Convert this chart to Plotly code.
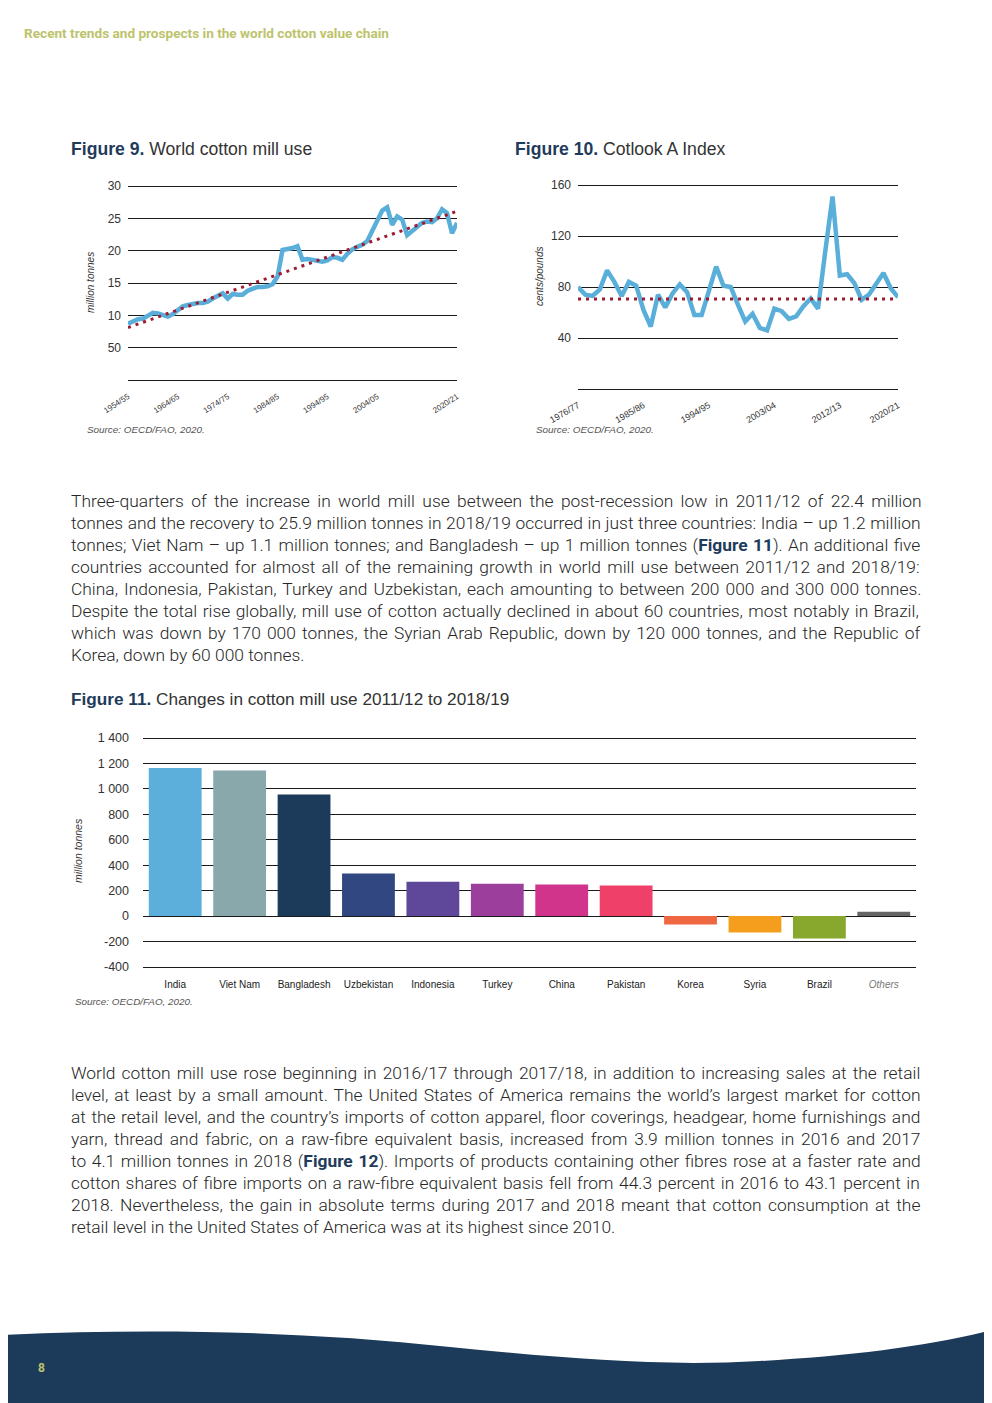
import plotly.graph_objects as go

W, H = 992, 1403
OFF = 8  # page body margin of the browser


def px(x):
    return (x - OFF) / W


def py(y):
    return 1 - (y - OFF) / H


# ---------------- Figure 9: World cotton mill use ----------------
mill_years = list(range(1954, 2021))
mill_use = [8.7, 9.1, 9.4, 9.5, 9.9, 10.4, 10.3, 10.0, 9.8, 10.2,
            10.9, 11.4, 11.6, 11.8, 11.9, 11.9, 12.1, 12.6, 13.1, 13.4,
            12.6, 13.3, 13.2, 13.2, 13.8, 14.1, 14.4, 14.4, 14.5, 14.8,
            16.0, 20.1, 20.2, 20.4, 20.7, 18.6, 18.7, 18.6, 18.5, 18.3,
            18.5, 19.0, 18.9, 18.6, 19.5, 20.2, 20.6, 20.9, 21.5, 23.0,
            24.7, 26.2, 26.7, 24.0, 25.3, 24.8, 22.4, 23.0, 23.8, 24.3,
            24.5, 24.4, 25.0, 26.4, 25.8, 22.7, 24.3]
mill_trend_years = [1954, 2020]
mill_trend = [8.1, 26.1]
mill_tick_years = [1954, 1964, 1974, 1984, 1994, 2004, 2020]
mill_tick_labels = ["1954/55", "1964/65", "1974/75", "1984/85", "1994/95", "2004/05", "2020/21"]
mill_y_ticks = [0, 5, 10, 15, 20, 25, 30]
mill_y_labels = ["", "50", "10", "15", "20", "25", "30"]

# ---------------- Figure 10: Cotlook A Index ----------------
cot_years = list(range(1976, 2021))
cotlook = [80, 74, 73, 78, 93, 84, 73, 84, 81, 62,
           49, 74, 64, 75, 82, 76, 58, 58, 77, 96,
           81, 80, 66, 53, 59, 48, 46, 63, 61, 55,
           57, 65, 71, 63, 108, 151, 89, 90, 83, 70,
           74, 83, 91, 79, 72]
cot_avg_years = [1976, 2020]
cot_avg = [70.5, 70.5]
cot_tick_years = [1976, 1985, 1994, 2003, 2012, 2020]
cot_tick_labels = ["1976/77", "1985/86", "1994/95", "2003/04", "2012/13", "2020/21"]
cot_y_ticks = [0, 40, 80, 120, 160]
cot_y_labels = ["", "40", "80", "120", "160"]

# ---------------- Figure 11: Changes in cotton mill use ----------------
countries = ["India", "Viet Nam", "Bangladesh", "Uzbekistan", "Indonesia", "Turkey",
             "China", "Pakistan", "Korea", "Syria", "Brazil", "Others"]
changes = [1165, 1145, 955, 335, 270, 255, 248, 240, -65, -128, -175, 35]
bar_colors = ["#5BAFDA", "#88A8AC", "#1C3A59", "#304781", "#5F4799", "#9C3E9B",
              "#D0348B", "#EF4069", "#EE6740", "#F59D1C", "#87A82D", "#666666"]
chg_y_ticks = [-400, -200, 0, 200, 400, 600, 800, 1000, 1200, 1400]
chg_y_labels = ["-400", "-200", "0", "200", "400", "600", "800", "1 000", "1 200", "1 400"]
country_labels = countries[:-1] + ["<i><span style='color:#777'>Others</span></i>"]

BLUE = "#5AAEDA"
RED = "#9E1B32"
NAVY = "#1F3B5B"
OLIVE = "#BDC36C"
TXT = "#2b2b2b"
GRID = "#1a1a1a"


def padded(lo, hi, top_px, bot_px, pad=1.5):
    """Return (range, domain) with a small pixel pad so edge gridlines are drawn."""
    per_px = (hi - lo) / (bot_px - top_px)
    rng = [lo - pad * per_px, hi + pad * per_px]
    dom = [py(bot_px + pad), py(top_px - pad)]
    return rng, dom


y1_rng, y1_dom = padded(0, 30, 186, 380)
y2_rng, y2_dom = padded(0, 160, 185, 389)
y3_rng, y3_dom = padded(-400, 1400, 738, 967)

fig = go.Figure()

fig.add_trace(go.Scatter(x=mill_years, y=mill_use, mode="lines",
                         line=dict(color=BLUE, width=4.5), xaxis="x", yaxis="y",
                         showlegend=False, hoverinfo="skip"))
fig.add_trace(go.Scatter(x=mill_trend_years, y=mill_trend, mode="lines",
                         line=dict(color=RED, width=3, dash="3px,5px"), xaxis="x", yaxis="y",
                         showlegend=False, hoverinfo="skip"))

fig.add_trace(go.Scatter(x=cot_years, y=cotlook, mode="lines",
                         line=dict(color=BLUE, width=4.5), xaxis="x2", yaxis="y2",
                         showlegend=False, hoverinfo="skip"))
fig.add_trace(go.Scatter(x=cot_avg_years, y=cot_avg, mode="lines",
                         line=dict(color=RED, width=3, dash="3px,5px"), xaxis="x2", yaxis="y2",
                         showlegend=False, hoverinfo="skip"))

fig.add_trace(go.Bar(x=countries, y=changes, marker=dict(color=bar_colors, line=dict(width=0)),
                     xaxis="x3", yaxis="y3", showlegend=False, hoverinfo="skip"))

tick_font = dict(family="Liberation Sans, Arial, sans-serif", color="#333")
common = dict(automargin=False, zeroline=False, showline=False, ticks="")

fig.update_layout(
    template="none",
    width=W, height=H, autosize=False,
    margin=dict(l=0, r=0, t=0, b=0, pad=0),
    paper_bgcolor="white", plot_bgcolor="white",
    bargap=0.18,
    xaxis=dict(domain=[px(128), px(457)], range=[1954, 2020], anchor="y",
               tickmode="array", tickvals=mill_tick_years, ticktext=mill_tick_labels,
               tickangle=-33, tickfont=dict(size=8, **tick_font), showgrid=False,
               ticklabelstandoff=8, **common),
    yaxis=dict(domain=y1_dom, range=y1_rng, anchor="x",
               tickmode="array", tickvals=mill_y_ticks, ticktext=mill_y_labels,
               tickfont=dict(size=12, **tick_font), showgrid=True, gridcolor=GRID,
               gridwidth=1, ticklabelstandoff=6, **common),
    xaxis2=dict(domain=[px(578), px(898)], range=[1976, 2020], anchor="y2",
                tickmode="array", tickvals=cot_tick_years, ticktext=cot_tick_labels,
                tickangle=-30, tickfont=dict(size=9, **tick_font), showgrid=False,
                ticklabelstandoff=7, **common),
    yaxis2=dict(domain=y2_dom, range=y2_rng, anchor="x2",
                tickmode="array", tickvals=cot_y_ticks, ticktext=cot_y_labels,
                tickfont=dict(size=12, **tick_font), showgrid=True, gridcolor=GRID,
                gridwidth=1, ticklabelstandoff=6, **common),
    xaxis3=dict(domain=[px(143), px(916)], anchor="y3", type="category",
                tickmode="array", tickvals=countries, ticktext=country_labels,
                tickfont=dict(size=10, family="Liberation Sans, Arial, sans-serif", color="#222"),
                showgrid=False, ticklabelstandoff=8, **common),
    yaxis3=dict(domain=y3_dom, range=y3_rng, anchor="x3",
                tickmode="array", tickvals=chg_y_ticks, ticktext=chg_y_labels,
                tickfont=dict(size=12.5, **tick_font), showgrid=True, gridcolor=GRID,
                gridwidth=1, ticklabelstandoff=13, **common),
)

ann = []


def text(x, y, s, size, color=TXT, family="Roboto, sans-serif", xanchor="left", angle=0,
         yanchor="middle", weight="normal"):
    ann.append(dict(x=px(x), y=py(y), xref="paper", yref="paper", text=s, showarrow=False,
                    xanchor=xanchor, yanchor=yanchor, textangle=angle,
                    font=dict(size=size, color=color, family=family, weight=weight)))


# header and page number
text(22, 33, "<b>Recent trends and prospects in the world cotton value chain</b>", 13.6, OLIVE,
     family="Roboto, sans-serif")
text(41, 1368, "<b>8</b>", 12, OLIVE, xanchor="center")

# figure titles
title_fam = "Liberation Sans, Arial, sans-serif"
text(69, 149, f"<b><span style='color:{NAVY}'>Figure 9.</span></b> World cotton mill use", 17.6, "#333",
     family=title_fam)
text(513, 149, f"<b><span style='color:{NAVY}'>Figure 10.</span></b> Cotlook A Index", 17.6, "#333",
     family=title_fam)
text(69, 699, f"<b><span style='color:{NAVY}'>Figure 11.</span></b> Changes in cotton mill use 2011/12 to 2018/19",
     17.2, "#333", family=title_fam)

# axis titles
text(90, 283, "<i>million tonnes</i>", 10, "#333", family=title_fam, xanchor="center", angle=-90)
text(539, 276, "<i>cents/pounds</i>", 10, "#333", family=title_fam, xanchor="center", angle=-90)
text(78, 851, "<i>million tonnes</i>", 10.5, "#333", family=title_fam, xanchor="center", angle=-90)

# sources
src = "<i>Source: OECD/FAO, 2020.</i>"
text(85, 430, src, 9.9, "#555", family=title_fam)
text(534, 430, src, 9.9, "#555", family=title_fam)
text(73, 1001, src, 9.9, "#555", family=title_fam)

fig11 = f"<b><span style='color:{NAVY}'>Figure 11</span></b>"
fig12 = f"<b><span style='color:{NAVY}'>Figure 12</span></b>"
para1 = [
    "Three-quarters of the increase in world mill use between the post-recession low in 2011/12 of 22.4 million",
    "tonnes and the recovery to 25.9 million tonnes in 2018/19 occurred in just three countries: India – up 1.2 million",
    "tonnes; Viet Nam – up 1.1 million tonnes; and Bangladesh – up 1 million tonnes (Figure 11). An additional five",
    "countries accounted for almost all of the remaining growth in world mill use between 2011/12 and 2018/19:",
    "China, Indonesia, Pakistan, Turkey and Uzbekistan, each amounting to between 200 000 and 300 000 tonnes.",
    "Despite the total rise globally, mill use of cotton actually declined in about 60 countries, most notably in Brazil,",
    "which was down by 170 000 tonnes, the Syrian Arab Republic, down by 120 000 tonnes, and the Republic of",
    "Korea, down by 60 000 tonnes.",
]
para2 = [
    "World cotton mill use rose beginning in 2016/17 through 2017/18, in addition to increasing sales at the retail",
    "level, at least by a small amount. The United States of America remains the world’s largest market for cotton",
    "at the retail level, and the country’s imports of cotton apparel, floor coverings, headgear, home furnishings and",
    "yarn, thread and fabric, on a raw-fibre equivalent basis, increased from 3.9 million tonnes in 2016 and 2017",
    "to 4.1 million tonnes in 2018 (Figure 12). Imports of products containing other fibres rose at a faster rate and",
    "cotton shares of fibre imports on a raw-fibre equivalent basis fell from 44.3 percent in 2016 to 43.1 percent in",
    "2018. Nevertheless, the gain in absolute terms during 2017 and 2018 meant that cotton consumption at the",
    "retail level in the United States of America was at its highest since 2010.",
]
# measured natural widths (px) of each line in Roboto Light at 17 px, used for justification
para1_natural = [781, 824, 811, 799, 804, 810, 795, None]
para2_natural = [800, 799, 811, 787, 805, 806, 797, None]

MEAS_SIZE = 17.0
BODY_SIZE = 17.4
JUSTIFY_W = 850


def body_line(s, natural):
    n_sp = s.count(" ")
    s = s.replace("Figure 11", fig11).replace("Figure 12", fig12)
    if natural is None or n_sp == 0:
        return s
    nat = natural * BODY_SIZE / MEAS_SIZE
    ws = max(0.0, (JUSTIFY_W - nat) / n_sp)
    return f"<span style='word-spacing:{ws:.2f}px'>{s}</span>"


for i, line in enumerate(para1):
    text(69, 501 + 22 * i, body_line(line, para1_natural[i]), BODY_SIZE, "#262626", weight=300)
for i, line in enumerate(para2):
    text(69, 1073 + 22 * i, body_line(line, para2_natural[i]), BODY_SIZE, "#262626", weight=300)

fig.update_layout(annotations=ann)


def P(x, y):
    return f"{px(x):.5f},{py(y):.5f}"


# footer wave
path = (f"M {P(0, 1335)} C {P(150, 1328)} {P(300, 1331)} {P(450, 1347)} "
        f"C {P(560, 1358)} {P(660, 1367)} {P(760, 1361)} "
        f"C {P(850, 1356)} {P(930, 1346)} {P(992, 1330)} "
        f"L {P(1010, 1330)} L {P(1010, 1420)} L {P(0, 1420)} Z")
fig.add_shape(type="path", path=path, xref="paper", yref="paper",
              fillcolor="#1C3A59", line=dict(width=0), layer="below")

fig.write_html("out.html")
